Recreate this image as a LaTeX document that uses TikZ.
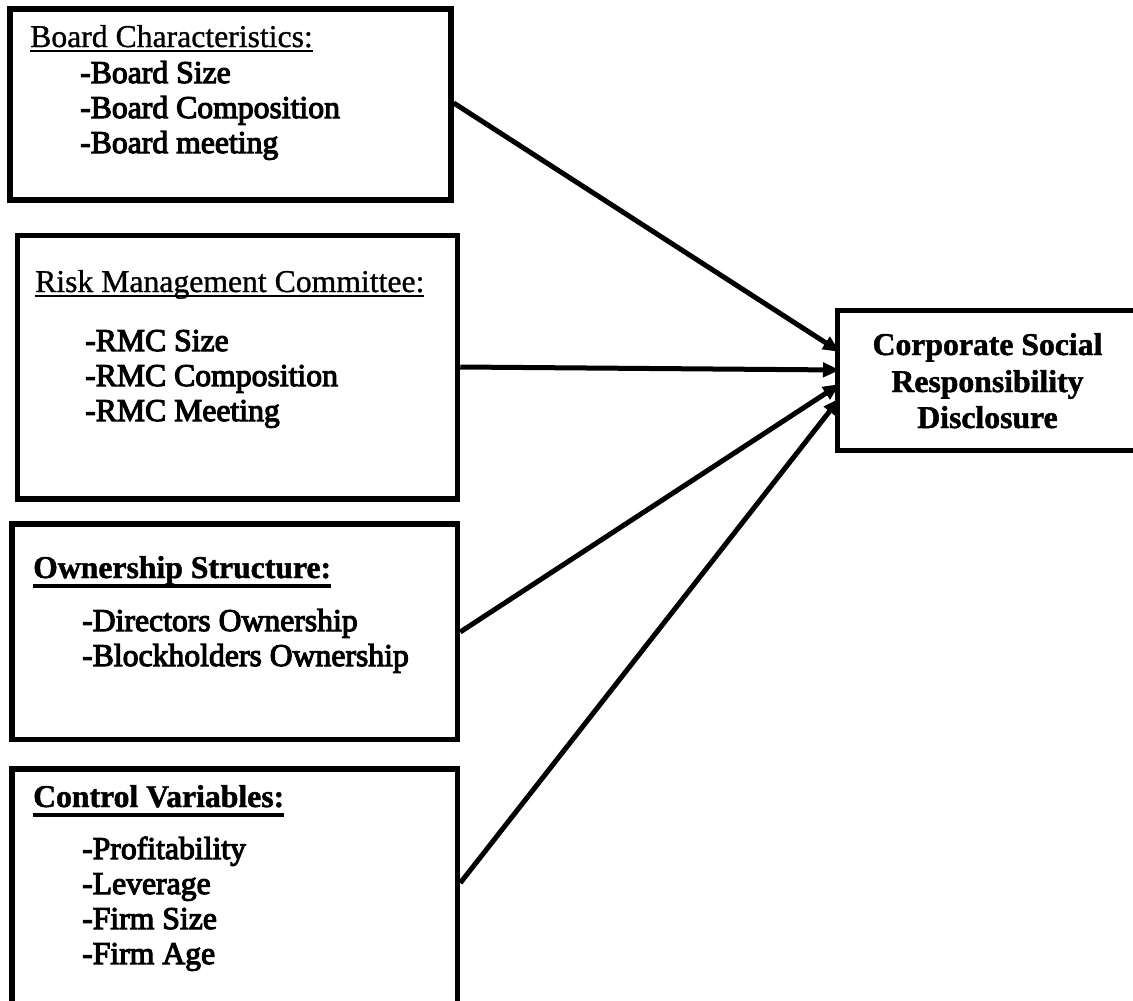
\documentclass[tikz,border=0pt]{standalone}
\usepackage{fontspec}
\setmainfont{Liberation Serif}
\newfontfamily\fbold{Liberation Serif}[FakeBold=3.5]
\newfontfamily\freg{Liberation Serif}[FakeBold=1]
\newfontfamily\fbb{Liberation Serif Bold}[FakeBold=1.5]
\usetikzlibrary{arrows.meta}
\newcommand\ulbox[3]{\setbox0\hbox{#3}\rlap{\copy0}\rule[-#2]{\wd0}{#1}}
\tikzset{
  box/.style={draw, line width=5.5pt, rectangle, inner sep=0pt, minimum width=#1},
  txt/.style={anchor=base west, inner sep=0pt, font=\fontsize{31.7}{35}\selectfont\freg},
  btxt/.style={anchor=base west, inner sep=0pt, font=\fontsize{31.7}{35}\selectfont\fbb},
  itm/.style={anchor=base west, inner sep=0pt, font=\fontsize{31.7}{35}\selectfont\fbold},
  ctr/.style={anchor=base, inner sep=0pt, font=\fontsize{31.7}{35}\selectfont\fbb},
  conn/.style={line width=5pt, -{Triangle[length=17pt,width=14pt]}}
}
\begin{document}
\begin{tikzpicture}[x=1pt,y=-1pt]
\useasboundingbox (0,0) rectangle (1133,1001);
\clip (0,0) rectangle (1133,1001);
% boxes
\node[box=441pt, minimum height=191pt] (B1) at (230.5,104.5) {};
\node[box=440pt, minimum height=263.5pt] (B2) at (237.5,367.25) {};
\node[box=445.5pt, minimum height=215.5pt] (B3) at (234.75,631.75) {};
\node[box=445.5pt, minimum height=250pt] (B4) at (234.75,894) {};
\node[box=307.5pt, minimum height=140pt] (C) at (991.25,380.5) {};
% box 1
\node[txt] (h1) at (30,47) {\ulbox{2.5pt}{5pt}{Board Characteristics:}};
\node[itm] (i11) at (80,83) {-Board Size};
\node[itm] (i12) at (80,118) {-Board Composition};
\node[itm] (i13) at (80,153) {-Board meeting};
% box 2
\node[txt] (h2) at (35,292) {\ulbox{2.5pt}{5pt}{Risk Management Committee:}};
\node[itm] (i21) at (85,351) {-RMC Size};
\node[itm] (i22) at (85,386) {-RMC Composition};
\node[itm] (i23) at (85,421) {-RMC Meeting};
% box 3
\node[btxt] (h3) at (33,578) {\ulbox{4.5pt}{10pt}{Ownership Structure:}};
\node[itm] (i31) at (82,631) {-Directors Ownership};
\node[itm] (i32) at (82,666) {-Blockholders Ownership};
% box 4
\node[btxt] (h4) at (33,807) {\ulbox{4.5pt}{10pt}{Control Variables:}};
\node[itm] (i41) at (82,859) {-Profitability};
\node[itm] (i42) at (82,894) {-Leverage};
\node[itm] (i43) at (82,929) {-Firm Size};
\node[itm] (i44) at (82,964) {-Firm Age};
% CSR
\node[ctr] (c1) at (987.5,355) {Corporate Social};
\node[ctr] (c2) at (987.5,392) {Responsibility};
\node[ctr] (c3) at (987.5,428) {Disclosure};
% connector ends
\coordinate (s1) at (B1.east |- 0,103);
\coordinate (s2) at (B2.east |- 0,367);
\coordinate (s3) at (B3.east |- 0,632);
\coordinate (s4) at (B4.east |- 0,883);
\coordinate (t1) at (840,352);
\coordinate (t2) at (840,370);
\coordinate (t3) at (840,384);
\coordinate (t4) at (840,398);
\draw[conn] (s1) -- (t1);
\draw[conn] (s2) -- (t2);
\draw[conn] (s3) -- (t3);
\draw[conn] (s4) -- (t4);
\end{tikzpicture}
\end{document}
